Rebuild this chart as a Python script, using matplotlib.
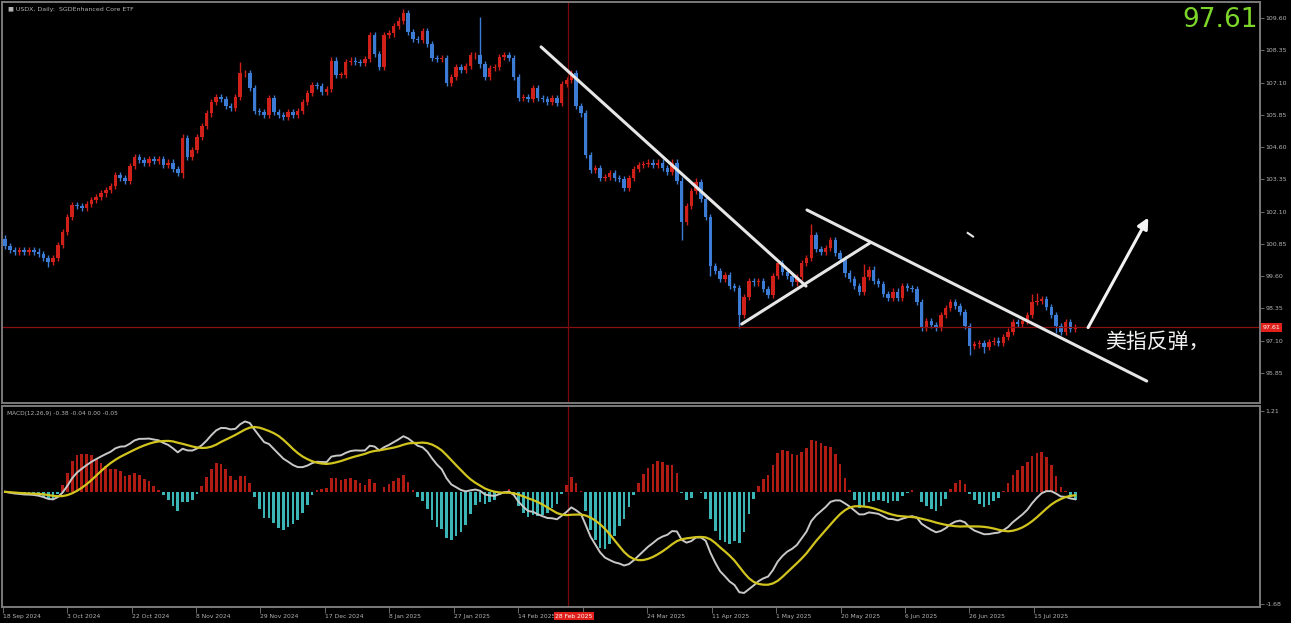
import numpy as np
import pandas as pd
import matplotlib.pyplot as plt
import matplotlib.transforms as mtransforms

# daily closes (open = previous close)
first_open = 101.05
closes = [
    100.75, 100.6, 100.55, 100.6, 100.55, 100.6, 100.55, 100.45, 100.3, 100.15,
    100.3, 100.8, 101.3, 101.9, 102.35, 102.3, 102.25, 102.4, 102.55, 102.65,
    102.8, 102.95, 103.1, 103.5, 103.4, 103.3, 103.85, 104.2, 104.1, 104.0,
    104.15, 104.05, 104.15, 103.9, 104.0, 103.75, 103.6, 104.95, 104.2, 104.5,
    105.0, 105.4, 105.9, 106.35, 106.55, 106.45, 106.2, 106.1, 106.55, 107.45,
    107.45, 106.9, 106.0, 105.95, 105.85, 106.5, 105.95, 105.85, 105.75, 105.95,
    105.85, 106.0, 106.35, 106.7, 107.0, 106.95, 106.75, 106.85, 107.95, 107.4,
    107.4, 107.9, 107.95, 107.9, 107.85, 108.0, 108.95, 108.2, 107.7, 108.95,
    109.0, 109.3, 109.5, 109.8, 109.05, 108.8, 108.75, 109.1, 108.6, 108.05,
    108.0, 108.05, 107.1, 107.3, 107.7, 107.6, 107.75, 108.15, 108.15, 107.8,
    107.3, 107.65, 107.7, 108.1, 108.15, 108.05, 107.3, 106.5, 106.55, 106.45,
    106.9, 106.5, 106.45, 106.35, 106.5, 106.3, 107.05, 107.2, 107.45, 106.2,
    105.9, 104.3, 103.7, 103.8, 103.4, 103.45, 103.6, 103.4, 103.35, 103.0,
    103.4, 103.75, 103.9, 103.95, 104.0, 103.9, 104.0, 103.8, 103.65, 104.0,
    103.3, 101.7, 102.3, 102.9, 103.25, 102.6, 101.9, 100.0, 99.8, 99.5,
    99.65, 99.2, 99.15, 98.1, 98.8, 99.4, 99.35, 99.4, 99.1, 98.85,
    99.6, 100.1, 99.75, 99.6, 99.35, 99.55, 100.1, 100.3, 101.2, 100.65,
    100.55, 100.7, 101.0, 100.5, 100.25, 99.7, 99.5, 99.2, 99.0, 99.55,
    99.85, 99.4, 99.3, 98.9, 98.75, 99.0, 98.75, 99.2, 99.15, 99.1,
    98.6, 97.6, 97.85, 97.7, 97.6, 98.1, 98.35, 98.6, 98.45, 98.2,
    97.65, 96.9, 96.95, 97.0, 96.85, 97.05, 97.1, 97.0, 97.25, 97.45,
    97.8, 97.75, 97.85, 98.1, 98.6, 98.65, 98.7, 98.4, 98.1, 97.65,
    97.45, 97.8, 97.55, 97.61]

# notable wick extremes
spike_highs = {0: 101.2, 37: 105.1, 49: 107.9, 68: 108.1, 76: 109.05, 83: 109.95,
               99: 109.65, 118: 107.55, 139: 104.15, 144: 103.4, 168: 101.6,
               179: 100.05, 214: 98.9, 215: 98.95}
spike_lows = {9: 99.95, 37: 103.4, 141: 101.0, 147: 99.6, 153: 97.6, 201: 96.55,
              204: 96.6, 219: 97.4}

price_ticks = [109.60, 108.35, 107.10, 105.85, 104.60, 103.35, 102.10, 100.85,
               99.60, 98.35, 97.10, 95.85]
date_labels = ["18 Sep 2024", "3 Oct 2024", "22 Oct 2024", "8 Nov 2024", "29 Nov 2024",
               "17 Dec 2024", "8 Jan 2025", "27 Jan 2025", "14 Feb 2025", "4 Mar 2025",
               "24 Mar 2025", "11 Apr 2025", "1 May 2025", "20 May 2025", "6 Jun 2025",
               "26 Jun 2025", "15 Jul 2025"]
hidden_label = 9   # covered by the cursor date box
last_price = 97.61
cursor_bar = 117.3
cursor_date = "28 Feb 2025"

c = np.array(closes)
o = np.r_[first_open, c[:-1]]
n = len(c)
x = np.arange(n)
wick = 0.12
hi = np.maximum(o, c) + wick
lo = np.minimum(o, c) - wick
for k, v in spike_highs.items():
    hi[k] = max(hi[k], v)
for k, v in spike_lows.items():
    lo[k] = min(lo[k], v)

# MACD(12,26,9)
s = pd.Series(c)
macd = s.ewm(span=12, adjust=False).mean() - s.ewm(span=26, adjust=False).mean()
signal = macd.rolling(9, min_periods=1).mean()
hist = (macd - signal) * 2

BG = 'black'
GRID = '#7a7a7a'
TXT = '#b4b4b4'
UP = '#d0201a'
DN = '#3c7cd4'

fig = plt.figure(figsize=(12.91, 6.23), dpi=100, facecolor=BG)
ax1 = fig.add_axes([2/1291, 220/623, 1258/1291, 401/623], facecolor=BG)
ax2 = fig.add_axes([2/1291, 16/623, 1258/1291, 201/623], facecolor=BG, sharex=ax1)

x_left, x_right = -0.63, 261.5

# candles
up = c >= o
ax1.vlines(x, lo, hi, colors=np.where(up, UP, DN), lw=1.0)
body_h = np.maximum(np.abs(c - o), 0.03)
ax1.bar(x, body_h, bottom=np.minimum(o, c), width=0.72,
        color=np.where(up, UP, DN), edgecolor='none')

ax1.axhline(last_price, color='#8b1010', lw=0.9)
ax1.axvline(cursor_bar, color='#7a0a0a', lw=0.9)
ax2.axvline(cursor_bar, color='#7a0a0a', lw=0.9)

# trend lines drawn on the chart
ln = dict(color='#e6e6e6', lw=2.2, solid_capstyle='round')
ax1.plot([111.7, 166.9], [108.48, 99.21], **ln)
ax1.plot([153.5, 180.2], [97.74, 100.88], **ln)
ax1.plot([167.1, 237.9], [102.16, 95.53], **ln)
ax1.plot([200.6, 201.7], [101.27, 101.13], color='#e6e6e6', lw=1.5)
ax1.annotate('', xy=(238.5, 101.96), xytext=(225.4, 97.51),
             arrowprops=dict(arrowstyle='-|>', color='#f2f2f2', lw=2.2,
                             mutation_scale=16))
ax1.text(229.3, 97.05, '美指反弹，', color='#f0f0f0', fontsize=15,
         family=['Noto Sans CJK SC', 'DejaVu Sans'], va='center', ha='left')

ax1.set_xlim(x_left, x_right)
ax1.set_ylim(94.68, 110.22)
ax1.yaxis.tick_right()
ax1.set_yticks(price_ticks)
ax1.set_yticklabels([f'{p:.2f}' for p in price_ticks])
ax1.tick_params(axis='y', colors=GRID, labelcolor=TXT, labelsize=4.5, length=3,
                width=0.6, pad=1)
ax1.tick_params(axis='x', bottom=False, labelbottom=False)

trans1 = mtransforms.blended_transform_factory(ax1.transAxes, ax1.transData)
ax1.text(1.002, last_price, f'{last_price:.2f}', transform=trans1, color='white',
         fontsize=4.5, va='center', ha='left',
         bbox=dict(boxstyle='square,pad=0.3', fc='#e0201b', ec='none'))

fig.text(1258/1291, 1 - 20/623, '97.61', color='#7cd62a', fontsize=19,
         ha='right', va='center')
fig.text(8/1291, 1 - 9/623, '■ USDX, Daily:  SGDEnhanced Core ETF', color=TXT,
         fontsize=4.5, va='center')

# MACD panel
ax2.bar(x, hist, width=0.55, color=np.where(hist >= 0, '#b01c14', '#3bb5b5'))
ax2.plot(x, macd, color='#c8c8c8', lw=1.4)
ax2.plot(x, signal, color='#d2c41e', lw=1.6)
ax2.set_ylim(-1.725, 1.285)
ax2.yaxis.tick_right()
ax2.set_yticks([1.21, -1.68])
ax2.set_yticklabels(['1.21', '-1.68'])
ax2.tick_params(axis='y', colors=GRID, labelcolor=TXT, labelsize=4.5, length=3,
                width=0.6, pad=1)
ticks = np.arange(len(date_labels)) * 13.43 - 0.5
ax2.set_xticks(ticks)
ax2.set_xticklabels(['' if i == hidden_label else d for i, d in enumerate(date_labels)],
                    ha='left')
ax2.tick_params(axis='x', colors=GRID, labelcolor=TXT, labelsize=4.3, length=4,
                width=0.6, pad=1)
ax2.text(0.004, 0.975, 'MACD(12,26,9) -0.38 -0.04 0.00 -0.05', transform=ax2.transAxes,
         color=TXT, fontsize=4.2, va='top')
trans2 = mtransforms.blended_transform_factory(ax2.transData, ax2.transAxes)
ax2.text(cursor_bar + 1.2, -0.045, cursor_date, transform=trans2, color='white',
         fontsize=4.3, ha='center', va='center',
         bbox=dict(boxstyle='square,pad=0.25', fc='#e0201b', ec='none'))

for ax in (ax1, ax2):
    for sp in ax.spines.values():
        sp.set_color(GRID)
        sp.set_linewidth(1.4)

fig.savefig('out.png', dpi=100, facecolor=BG)
